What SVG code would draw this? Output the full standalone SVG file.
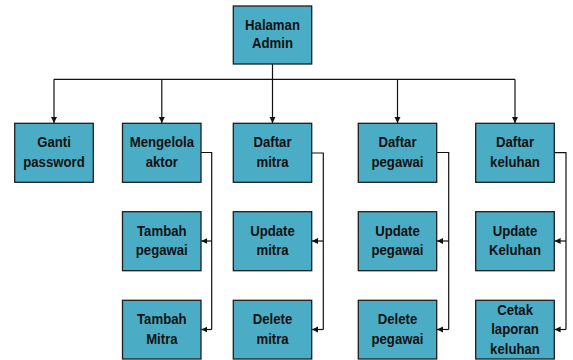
<svg xmlns="http://www.w3.org/2000/svg" width="573" height="360" viewBox="0 0 573 360">
  <style>
    .box { fill: #4bacc6; stroke: #1e1e1e; stroke-width: 1.3; }
    .lbl { font-family: "Liberation Sans", Arial, sans-serif; font-weight: bold; font-size: 15.5px; fill: #111; text-anchor: middle;
           transform-box: fill-box; transform-origin: center; transform: scaleX(0.85); }
    .wire { fill: none; stroke: #111; stroke-width: 1.2; }
  </style>
  <defs>
    <marker id="arrow" markerUnits="userSpaceOnUse" markerWidth="7" markerHeight="7" refX="6" refY="3" orient="auto">
      <path d="M0,0 L6,3 L0,6 z" fill="#111"/>
    </marker>
  </defs>
  <rect width="573" height="360" fill="#fff"/>

  <!-- connectors -->
  <g id="connectors">
    <path class="wire" d="M272.5,64 V79.3"/>
    <path class="wire" d="M54,79.3 H515"/>
    <path class="wire" d="M54,79.3 V123" marker-end="url(#arrow)"/>
    <path class="wire" d="M161.8,79.3 V123" marker-end="url(#arrow)"/>
    <path class="wire" d="M272.5,79.3 V123" marker-end="url(#arrow)"/>
    <path class="wire" d="M397.5,79.3 V123" marker-end="url(#arrow)"/>
    <path class="wire" d="M515,79.3 V123" marker-end="url(#arrow)"/>

    <path class="wire" d="M201,152.5 H211.7 V329.5"/>
    <path class="wire" d="M211.7,241 H201.3" marker-end="url(#arrow)"/>
    <path class="wire" d="M211.7,329.5 H201.3" marker-end="url(#arrow)"/>

    <path class="wire" d="M311.7,153 H323.3 V329.5"/>
    <path class="wire" d="M323.3,241 H312" marker-end="url(#arrow)"/>
    <path class="wire" d="M323.3,329.5 H312" marker-end="url(#arrow)"/>

    <path class="wire" d="M436.7,152.5 H448.7 V329.5"/>
    <path class="wire" d="M448.7,241 H437" marker-end="url(#arrow)"/>
    <path class="wire" d="M448.7,329.5 H437" marker-end="url(#arrow)"/>

    <path class="wire" d="M554.3,152.7 H566 V329.5"/>
    <path class="wire" d="M566,241 H554.6" marker-end="url(#arrow)"/>
    <path class="wire" d="M566,329.5 H554.6" marker-end="url(#arrow)"/>
  </g>

  <!-- root -->
  <g id="halaman-admin">
    <rect class="box" x="233.3" y="6" width="78.4" height="58"/>
    <text class="lbl" x="272.5" y="30">Halaman</text>
    <text class="lbl" x="272.5" y="48.5">Admin</text>
  </g>

  <!-- first level -->
  <g id="ganti-password">
    <rect class="box" x="14.7" y="123.3" width="78.6" height="59"/>
    <text class="lbl" x="54" y="147.3">Ganti</text>
    <text class="lbl" x="54" y="166.7">password</text>
  </g>
  <g id="mengelola-aktor">
    <rect class="box" x="122.5" y="123.3" width="78.5" height="59"/>
    <text class="lbl" x="161.8" y="147.3">Mengelola</text>
    <text class="lbl" x="161.8" y="166.7">aktor</text>
  </g>
  <g id="daftar-mitra">
    <rect class="box" x="233.3" y="123.3" width="78.4" height="59"/>
    <text class="lbl" x="272.5" y="147.3">Daftar</text>
    <text class="lbl" x="272.5" y="166.7">mitra</text>
  </g>
  <g id="daftar-pegawai">
    <rect class="box" x="358.3" y="123.3" width="78.4" height="59"/>
    <text class="lbl" x="397.5" y="147.3">Daftar</text>
    <text class="lbl" x="397.5" y="166.7">pegawai</text>
  </g>
  <g id="daftar-keluhan">
    <rect class="box" x="475.7" y="123.3" width="78.6" height="59"/>
    <text class="lbl" x="515" y="147.3">Daftar</text>
    <text class="lbl" x="515" y="166.7">keluhan</text>
  </g>

  <!-- second level -->
  <g id="tambah-pegawai">
    <rect class="box" x="122.5" y="211.7" width="78.5" height="59"/>
    <text class="lbl" x="161.8" y="235.7">Tambah</text>
    <text class="lbl" x="161.8" y="255.1">pegawai</text>
  </g>
  <g id="update-mitra">
    <rect class="box" x="233.3" y="211.7" width="78.4" height="59"/>
    <text class="lbl" x="272.5" y="235.7">Update</text>
    <text class="lbl" x="272.5" y="255.1">mitra</text>
  </g>
  <g id="update-pegawai">
    <rect class="box" x="358.3" y="211.7" width="78.4" height="59"/>
    <text class="lbl" x="397.5" y="235.7">Update</text>
    <text class="lbl" x="397.5" y="255.1">pegawai</text>
  </g>
  <g id="update-keluhan">
    <rect class="box" x="475.7" y="211.7" width="78.6" height="59"/>
    <text class="lbl" x="515" y="235.7">Update</text>
    <text class="lbl" x="515" y="255.1">Keluhan</text>
  </g>

  <!-- third level -->
  <g id="tambah-mitra">
    <rect class="box" x="122.5" y="300.3" width="78.5" height="58.7"/>
    <text class="lbl" x="161.8" y="324.3">Tambah</text>
    <text class="lbl" x="161.8" y="343.7">Mitra</text>
  </g>
  <g id="delete-mitra">
    <rect class="box" x="233.3" y="300.3" width="78.4" height="58.7"/>
    <text class="lbl" x="272.5" y="324.3">Delete</text>
    <text class="lbl" x="272.5" y="343.7">mitra</text>
  </g>
  <g id="delete-pegawai">
    <rect class="box" x="358.3" y="300.3" width="78.4" height="58.7"/>
    <text class="lbl" x="397.5" y="324.3">Delete</text>
    <text class="lbl" x="397.5" y="343.7">pegawai</text>
  </g>
  <g id="cetak-laporan-keluhan">
    <rect class="box" x="475.7" y="300.3" width="78.6" height="58.7"/>
    <text class="lbl" x="515" y="315">Cetak</text>
    <text class="lbl" x="515" y="334.5">laporan</text>
    <text class="lbl" x="515" y="354">keluhan</text>
  </g>
</svg>
